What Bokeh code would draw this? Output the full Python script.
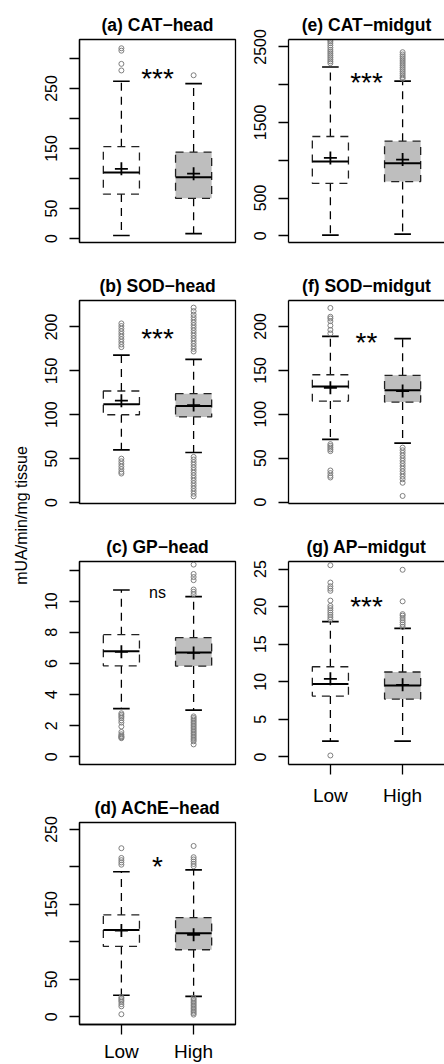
import math
from bokeh.plotting import figure
from bokeh.layouts import row, column
from bokeh.models import FixedTicker, Range1d, LinearAxis
from bokeh.core.properties import value
from bokeh.embed import file_html
from bokeh.resources import INLINE

FONT = "Liberation Sans"
GROUPS = ["Low", "High"]
GROUP_X = [1, 2]
Y_LABEL = "mUA/min/mg tissue"

# five-number summaries per group: [lower whisker, Q1, median, Q3, upper whisker]
# (a) CAT-head
CAT_HEAD_LOW = [5, 74, 110, 153, 262]
CAT_HEAD_HIGH = [8, 67, 102, 144, 258]
CAT_HEAD_MEAN = [116, 108]
CAT_HEAD_OUT_LOW = [280, 291, 313, 317]
CAT_HEAD_OUT_HIGH = [272]
CAT_HEAD_TICKS = [0, 50, 100, 150, 200, 250, 300]
CAT_HEAD_LABELS = ["0", "50", "", "150", "", "250", ""]

# (b) SOD-head
SOD_HEAD_LOW = [60, 100, 112, 127, 168]
SOD_HEAD_HIGH = [57, 97.5, 110, 124, 163]
SOD_HEAD_MEAN = [116, 111]
SOD_HEAD_OUT_LOW = [177, 180, 183, 186, 189, 192, 195, 198, 201, 204,
                    50, 47, 44, 41, 38, 35, 33]
SOD_HEAD_OUT_HIGH = [172, 175, 178, 181, 184, 187, 190, 193, 196, 199, 202, 205,
                     208, 211, 214, 218, 222,
                     52, 49, 46, 43, 40, 37, 34, 31, 28, 25, 22, 19, 16, 13, 10, 7]
SOD_HEAD_TICKS = [0, 50, 100, 150, 200]
SOD_HEAD_LABELS = ["0", "50", "100", "150", "200"]

# (c) GP-head
GP_HEAD_LOW = [3.1, 5.85, 6.78, 7.85, 10.72]
GP_HEAD_HIGH = [3.0, 5.83, 6.7, 7.66, 10.29]
GP_HEAD_MEAN = [6.75, 6.68]
GP_HEAD_OUT_LOW = [2.8, 2.7, 2.6, 2.5, 2.35, 2.2, 1.95, 1.6, 1.45, 1.35, 1.3, 1.25, 1.2]
GP_HEAD_OUT_HIGH = [10.45, 10.6, 10.75, 11.35, 11.55, 11.75, 12.35,
                    2.6, 2.5, 2.4, 2.3, 2.2, 2.1, 2.0, 1.9, 1.8, 1.7, 1.6, 1.5,
                    1.4, 1.3, 1.2, 1.1, 1.0, 0.8]
GP_HEAD_TICKS = [0, 2, 4, 6, 8, 10, 12]
GP_HEAD_LABELS = ["0", "2", "4", "6", "8", "10", ""]

# (d) AChE-head
ACHE_HEAD_LOW = [28.8, 94, 116, 136, 193.6]
ACHE_HEAD_HIGH = [27.4, 89.5, 111.7, 132.5, 196]
ACHE_HEAD_MEAN = [115.2, 109.4]
ACHE_HEAD_OUT_LOW = [203, 206, 209, 212, 225, 26, 24, 22, 20, 17, 14, 3.5]
ACHE_HEAD_OUT_HIGH = [201, 204, 207, 210, 213, 228,
                      25, 23, 21, 19, 17, 15, 13, 11, 9, 7, 5, 3]
ACHE_HEAD_TICKS = [0, 50, 100, 150, 200, 250]
ACHE_HEAD_LABELS = ["0", "50", "", "150", "", "250"]

# (e) CAT-midgut
CAT_MID_LOW = [8, 694, 982, 1314, 2234]
CAT_MID_HIGH = [22, 717, 960, 1252, 2048]
CAT_MID_MEAN = [1031, 1009]
CAT_MID_OUT_LOW = [2285, 2310, 2335, 2360, 2385, 2410, 2435, 2460, 2490, 2520,
                   2550, 2575, 2595]
CAT_MID_OUT_HIGH = [2080, 2100, 2125, 2150, 2175, 2200, 2225, 2250, 2275, 2300,
                    2325, 2350, 2375, 2400, 2430]
CAT_MID_TICKS = [0, 500, 1000, 1500, 2000, 2500]
CAT_MID_LABELS = ["0", "500", "", "1500", "", "2500"]

# (f) SOD-midgut
SOD_MID_LOW = [71.4, 115, 131.7, 145, 188.7]
SOD_MID_HIGH = [67.2, 113.9, 127.2, 144.3, 186]
SOD_MID_MEAN = [130.2, 126.4]
SOD_MID_OUT_LOW = [192, 196, 201, 206, 209, 211, 221, 66, 64, 62, 60, 58, 36, 33, 30, 28]
SOD_MID_OUT_HIGH = [62, 59, 56, 53, 50, 47, 44, 41, 38, 35, 32, 29, 26, 22, 7]
SOD_MID_TICKS = [0, 50, 100, 150, 200]
SOD_MID_LABELS = ["0", "50", "100", "150", "200"]

# (g) AP-midgut
AP_MID_LOW = [2.1, 8.1, 9.7, 12.0, 18.0]
AP_MID_HIGH = [2.1, 7.7, 9.5, 11.3, 17.1]
AP_MID_MEAN = [10.4, 9.6]
AP_MID_OUT_LOW = [18.3, 18.6, 18.9, 19.2, 19.5, 19.8, 20.1, 20.8, 22.1, 22.4, 22.7,
                  23.2, 25.5, 0.2]
AP_MID_OUT_HIGH = [17.3, 17.6, 17.9, 18.2, 18.5, 18.8, 19.0, 20.7, 24.9]
AP_MID_TICKS = [0, 5, 10, 15, 20, 25]
AP_MID_LABELS = ["0", "5", "10", "15", "20", "25"]

TITLES = ["(a) CAT\u2212head", "(b) SOD\u2212head", "(c) GP\u2212head", "(d) AChE\u2212head",
          "(e) CAT\u2212midgut", "(f) SOD\u2212midgut", "(g) AP\u2212midgut"]
SIG = ["***", "***", "ns", "*", "***", "**", "***"]
SIG_Y = [277, 194, 10.57, 208, 2111, 188.7, 20.8]

BOX_HALF = 0.25
CAP_HALF = 0.115
DASH = "8 6"
LW = 1.3


def style_axis(ax, size):
    ax.major_label_text_font = FONT
    ax.major_label_text_font_size = size
    ax.major_label_text_color = "black"
    ax.major_tick_out = 10
    ax.major_tick_in = 0
    ax.major_tick_line_color = "black"
    ax.major_tick_line_width = LW
    ax.minor_tick_line_color = None
    ax.axis_line_color = "black"
    ax.axis_line_width = LW


def bare_axis(ax):
    ax.ticker = FixedTicker(ticks=[])
    ax.major_tick_out = 0
    ax.major_tick_in = 0
    ax.major_label_standoff = 0
    ax.minor_tick_line_color = None
    ax.major_tick_line_color = None
    ax.axis_line_color = "black"
    ax.axis_line_width = LW


def make_panel(title, low, high, mean, out_low, out_high, ticks, labels, yr,
               sig, sig_y, right_col, bottom_axis, top_border, height, label_standoff=10):
    bottom = height - top_border - 203
    p = figure(width=207, height=height,
               x_range=Range1d(0.42, 2.58), y_range=Range1d(*yr),
               output_backend="svg", toolbar_location=None,
               x_axis_location="below" if (bottom_axis or right_col) else None,
               min_border_left=51 if right_col else 49,
               min_border_right=0 if right_col else 2,
               min_border_top=top_border, min_border_bottom=bottom)
    p.background_fill_color = "white"
    p.border_fill_color = "white"
    p.xgrid.visible = False
    p.ygrid.visible = False

    xa = p.below[0] if (bottom_axis or right_col) else None
    ya = p.left[0]

    if right_col:
        p.outline_line_color = None
        top_ax = LinearAxis()
        bare_axis(top_ax)
        p.add_layout(top_ax, "above")
    else:
        p.outline_line_color = "black"
        p.outline_line_width = LW

    p.title.text = title
    p.title.align = "center"
    p.title.text_font = FONT
    p.title.text_font_size = "17.5px"
    p.title.text_font_style = "bold"
    p.title.text_color = "black"
    p.title.standoff = 9

    ya.ticker = FixedTicker(ticks=ticks)
    ya.major_label_overrides = {t: l for t, l in zip(ticks, labels)}
    ya.major_label_orientation = "vertical"
    ya.major_label_standoff = 12
    style_axis(ya, "16px")

    if bottom_axis:
        xa.ticker = FixedTicker(ticks=GROUP_X)
        xa.major_label_overrides = {x: g for x, g in zip(GROUP_X, GROUPS)}
        xa.major_label_standoff = label_standoff
        style_axis(xa, "19px")
    elif right_col:
        bare_axis(xa)

    stats = [low, high]
    fills = ["white", "#BEBEBE"]
    for x, st, fill in zip(GROUP_X, stats, fills):
        lo, q1, med, q3, hi = st
        p.segment(x0=[x, x], y0=[q3, q1], x1=[x, x], y1=[hi, lo],
                  line_color="black", line_width=LW, line_dash=DASH)
        p.segment(x0=[x - CAP_HALF] * 2, x1=[x + CAP_HALF] * 2, y0=[hi, lo], y1=[hi, lo],
                  line_color="black", line_width=1.7)
        p.quad(left=[x - BOX_HALF], right=[x + BOX_HALF], bottom=[q1], top=[q3],
               fill_color=fill, line_color="#222222", line_width=LW, line_dash=DASH)
        p.segment(x0=[x - BOX_HALF], x1=[x + BOX_HALF], y0=[med], y1=[med],
                  line_color="black", line_width=2)

    for x, outs in zip(GROUP_X, [out_low, out_high]):
        p.scatter(x=[x] * len(outs), y=outs, marker="circle", size=5,
                  fill_color=None, line_color="#7F7F7F", line_width=1)

    p.scatter(x=GROUP_X, y=mean, marker="cross", size=13, line_color="black", line_width=1.8)

    is_star = sig != "ns"
    p.text(x=[1.5], y=[sig_y], text=[sig], text_font=value(FONT),
           text_font_size="28px" if is_star else "16px",
           text_align="center", text_baseline="middle",
           y_offset=6 if is_star else 0, text_color="black")
    return p


pa = make_panel(TITLES[0], CAT_HEAD_LOW, CAT_HEAD_HIGH, CAT_HEAD_MEAN, CAT_HEAD_OUT_LOW,
                CAT_HEAD_OUT_HIGH, CAT_HEAD_TICKS, CAT_HEAD_LABELS, (-6.7, 331.6),
                SIG[0], SIG_Y[0], False, False, 39, 269)
pb = make_panel(TITLES[1], SOD_HEAD_LOW, SOD_HEAD_HIGH, SOD_HEAD_MEAN, SOD_HEAD_OUT_LOW,
                SOD_HEAD_OUT_HIGH, SOD_HEAD_TICKS, SOD_HEAD_LABELS, (-1.1, 230.1),
                SIG[1], SIG_Y[1], False, False, 31, 261)
pc = make_panel(TITLES[2], GP_HEAD_LOW, GP_HEAD_HIGH, GP_HEAD_MEAN, GP_HEAD_OUT_LOW,
                GP_HEAD_OUT_HIGH, GP_HEAD_TICKS, GP_HEAD_LABELS, (-0.49, 12.55),
                SIG[2], SIG_Y[2], False, False, 31, 261)
pd_ = make_panel(TITLES[3], ACHE_HEAD_LOW, ACHE_HEAD_HIGH, ACHE_HEAD_MEAN, ACHE_HEAD_OUT_LOW,
                 ACHE_HEAD_OUT_HIGH, ACHE_HEAD_TICKS, ACHE_HEAD_LABELS, (-10.2, 259.3),
                 SIG[3], SIG_Y[3], False, True, 31, 273, label_standoff=6)
pe = make_panel(TITLES[4], CAT_MID_LOW, CAT_MID_HIGH, CAT_MID_MEAN, CAT_MID_OUT_LOW,
                CAT_MID_OUT_HIGH, CAT_MID_TICKS, CAT_MID_LABELS, (-89, 2598),
                SIG[4], SIG_Y[4], True, False, 39, 269)
pf = make_panel(TITLES[5], SOD_MID_LOW, SOD_MID_HIGH, SOD_MID_MEAN, SOD_MID_OUT_LOW,
                SOD_MID_OUT_HIGH, SOD_MID_TICKS, SOD_MID_LABELS, (-1.6, 229.5),
                SIG[5], SIG_Y[5], True, False, 31, 261)
pg = make_panel(TITLES[6], AP_MID_LOW, AP_MID_HIGH, AP_MID_MEAN, AP_MID_OUT_LOW,
                AP_MID_OUT_HIGH, AP_MID_TICKS, AP_MID_LABELS, (-1.0, 26.0),
                SIG[6], SIG_Y[6], True, True, 31, 534, label_standoff=10)

ylab = figure(width=30, height=1064, x_range=Range1d(0, 30), y_range=Range1d(0, 1064),
              output_backend="svg", toolbar_location=None,
              x_axis_location=None, y_axis_location=None, min_border=0)
ylab.outline_line_color = None
ylab.xgrid.visible = False
ylab.ygrid.visible = False
ylab.text(x=[21.2], y=[549], text=[Y_LABEL], angle=math.pi / 2,
          text_font=value(FONT), text_font_size="16px", text_color="black",
          text_align="center", text_baseline="middle")

root = row(ylab, column(pa, pb, pc, pd_), column(pe, pf, pg))

open("out.html", "w").write(file_html(root, INLINE))
